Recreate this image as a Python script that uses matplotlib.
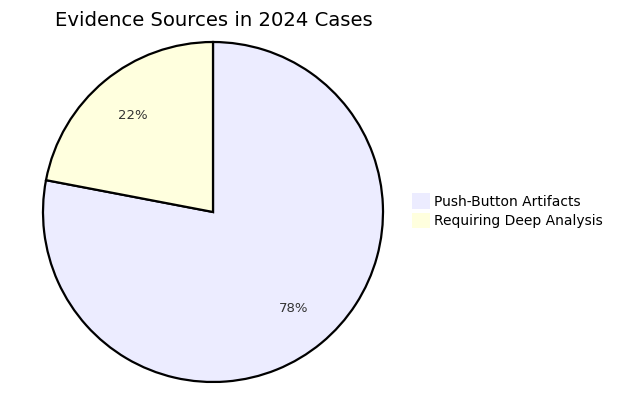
import matplotlib
matplotlib.use("Agg")
import matplotlib.pyplot as plt

categories = ["Push-Button Artifacts", "Requiring Deep Analysis"]
values = [78, 22]
colors = ["#ECECFF", "#FFFFDE"]
title = "Evidence Sources in 2024 Cases"

W, H = 632, 407
fig = plt.figure(figsize=(W / 100, H / 100), dpi=100)
ax = fig.add_axes([0, 0, 1, 1])

wedges, texts, autotexts = ax.pie(
    values,
    colors=colors,
    startangle=90,
    counterclock=False,
    center=(213, H - 212),
    radius=170,
    autopct="%d%%",
    pctdistance=0.74,
    wedgeprops=dict(edgecolor="black", linewidth=1.6),
    textprops=dict(fontsize=9.5, color="#333333"),
    frame=True,
)
ax.axis("off")
ax.set_xlim(0, W)
ax.set_ylim(0, H)
ax.set_aspect("equal")

fig.text(55 / W, 1 - 21 / H, title, fontsize=14.1, ha="left", va="center", color="black")

leg = fig.legend(
    wedges, categories,
    loc="upper left",
    bbox_to_anchor=(399 / W, 1 - 181 / H),
    frameon=False,
    fontsize=10,
    handlelength=1.3,
    handleheight=1.3,
    handletextpad=0.3,
    labelspacing=0.3,
)
for h in leg.legend_handles:
    h.set_edgecolor("none")

fig.savefig("out.png", dpi=100)
